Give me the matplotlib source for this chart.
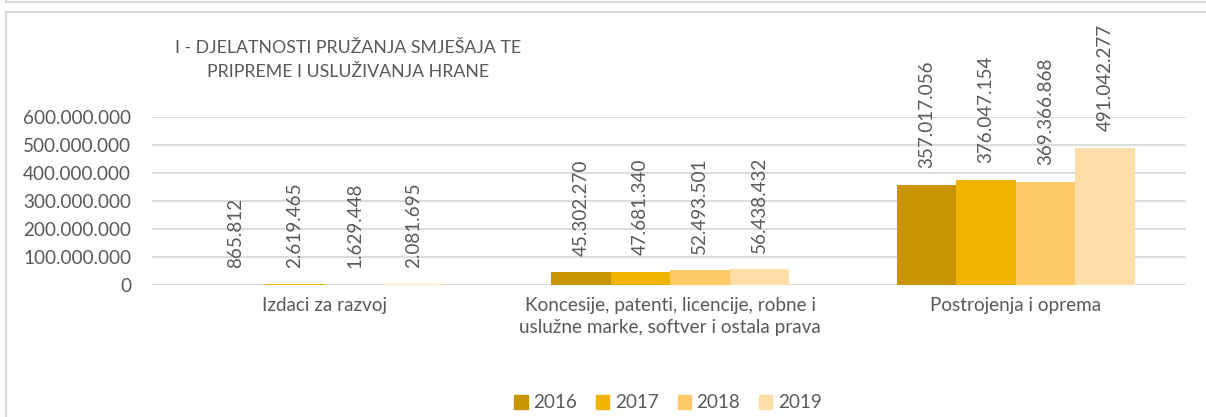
import matplotlib
matplotlib.use("Agg")
import matplotlib.pyplot as plt
from matplotlib.patches import Rectangle
from matplotlib.lines import Line2D
import numpy as np

categories = ["Izdaci za razvoj",
              "Koncesije, patenti, licencije, robne i\nuslužne marke, softver i ostala prava",
              "Postrojenja i oprema"]
years = ["2016", "2017", "2018", "2019"]
values = {
    "2016": [865812, 45302270, 357017056],
    "2017": [2619465, 47681340, 376047154],
    "2018": [1629448, 52493501, 369366868],
    "2019": [2081695, 56438432, 491042277],
}
colors = ["#C89400", "#F0B400", "#FFC868", "#FFDCA8"]
title = "I - DJELATNOSTI PRUŽANJA SMJEŠAJA TE\nPRIPREME I USLUŽIVANJA HRANE"
yticks = [0, 100000000, 200000000, 300000000, 400000000, 500000000, 600000000]

def fmt(v):
    return f"{v:,.0f}".replace(",", ".")

plt.rcParams['font.family'] = ['Lato', 'DejaVu Sans']
txt = "#595959"
grid = "#D9D9D9"
fs = 13.6

W, H = 1206, 417
fig = plt.figure(figsize=(W / 100, H / 100), dpi=100)
fig.patch.set_facecolor("white")

# outer frames
fig.add_artist(Line2D([6 / W, 1], [1 - 2 / H, 1 - 2 / H], color=grid, lw=1.5))
fig.add_artist(Line2D([6 / W, 6 / W], [1, 1 - 2 / H], color=grid, lw=1.5))
fig.add_artist(Line2D([6 / W, 1], [1 - 12 / H, 1 - 12 / H], color=grid, lw=1.5))
fig.add_artist(Line2D([6 / W, 6 / W], [0, 1 - 12 / H], color=grid, lw=1.5))

left, right = 152, 1186
bottom, top = 285, 117
ax = fig.add_axes([left / W, 1 - bottom / H, (right - left) / W, (bottom - top) / H])
ax.set_ylim(0, 600000000)
ax.set_xlim(-0.5, 2.493)

x = np.arange(len(categories))
bw = 0.172
for i, y in enumerate(years):
    pos = x + (i - 1.5) * bw
    ax.bar(pos, values[y], width=bw, color=colors[i], zorder=3, label=y)
    for p, v in zip(pos, values[y]):
        ax.annotate(fmt(v), (p, v), xytext=(0, 12), textcoords="offset points",
                    rotation=90, ha="center", va="bottom", fontsize=fs,
                    color=txt, annotation_clip=False)

ax.set_yticks(yticks)
ax.set_yticklabels([fmt(t) for t in yticks], fontsize=fs, color=txt)
ax.tick_params(axis="y", length=0, pad=15)
ax.set_xticks(x)
ax.set_xticklabels(categories, fontsize=fs, color=txt, linespacing=1.35)
ax.tick_params(axis="x", length=0, pad=9)
ax.yaxis.grid(True, color=grid, lw=1.3, zorder=0)
for s in ax.spines.values():
    s.set_visible(False)

fig.text(348 / W, 1 - 60 / H, title, ha="center", va="center", fontsize=12.8,
         color=txt, linespacing=1.6)

handles = [Rectangle((0, 0), 1, 1, color=c) for c in colors]
fig.legend(handles, years, loc="center", bbox_to_anchor=(668 / W, 1 - 403 / H),
           ncol=4, frameon=False, fontsize=fs, labelcolor=txt,
           handlelength=0.7, handleheight=0.7, handletextpad=0.3, columnspacing=1.0)

fig.savefig("out.png", dpi=100, facecolor="white")
